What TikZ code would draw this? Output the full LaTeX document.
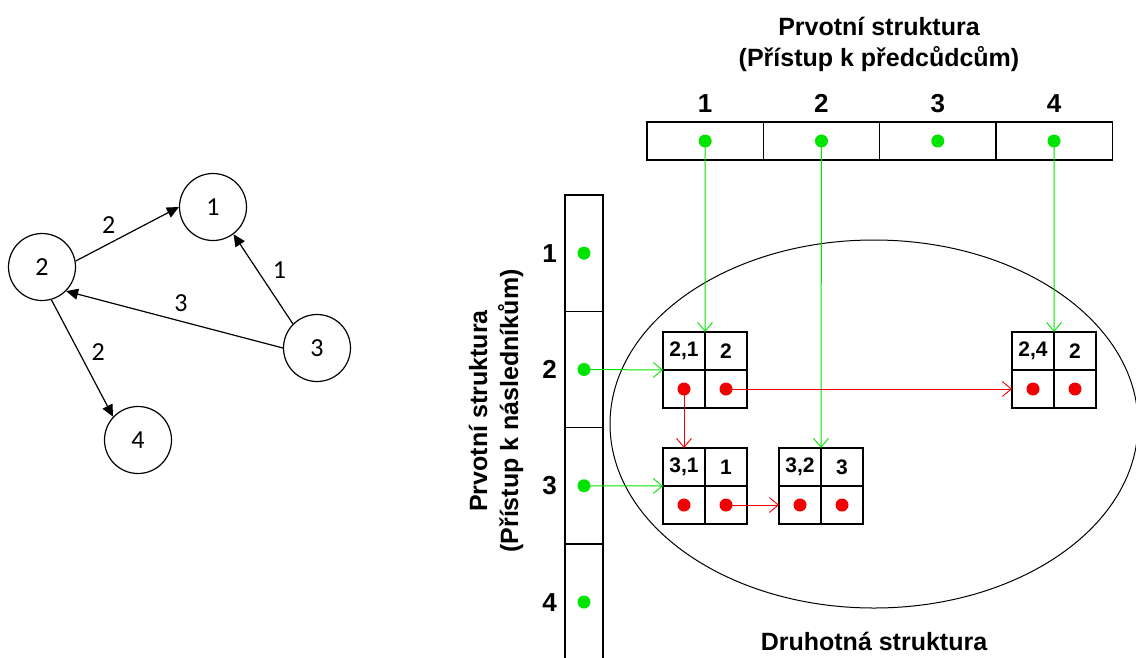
\documentclass[tikz,border=0pt]{standalone}
\usepackage{fontspec}
\setmainfont{Liberation Sans}
\newfontfamily\graphfont{Carlito}
\usepackage{tikz}
\usetikzlibrary{shapes.geometric, arrows.meta, positioning}
\definecolor{ptrgreen}{RGB}{0, 228, 0}
\definecolor{ptrred}{RGB}{240, 0, 0}

\begin{document}
\begin{tikzpicture}[
    x=1pt, y=-1pt,
    vertex/.style={draw, circle, minimum size=67pt, inner sep=0pt, line width=1.2pt, font=\graphfont\fontsize{26}{30}\selectfont},
    edge/.style={-{Triangle[length=12pt, width=11pt]}, line width=1.2pt},
    weight/.style={inner sep=0pt, font=\graphfont\fontsize{26}{30}\selectfont},
    headcell/.style={draw, line width=1.3pt, minimum width=116.3pt, minimum height=38pt, inner sep=0pt, outer sep=0pt},
    rowcell/.style={draw, line width=1.3pt, minimum width=38pt, minimum height=116.3pt, inner sep=0pt, outer sep=0pt},
    cell/.style={draw, line width=1.3pt, minimum width=42pt, minimum height=38pt, inner sep=0pt, outer sep=0pt, font=\bfseries\fontsize{21}{23}\selectfont},
    index/.style={inner sep=0pt, font=\bfseries\fontsize{26}{30}\selectfont},
    caption/.style={align=center, font=\bfseries\fontsize{25}{31}\selectfont},
    gptr/.style={ptrgreen, line width=1pt, -{Straight Barb[length=9pt, width=15pt, line width=0.9pt]}},
    rptr/.style={ptrred, line width=1pt, -{Straight Barb[length=9pt, width=15pt, line width=0.9pt]}}
]
    \useasboundingbox (0,0) rectangle (1136,657);

    % Graph
    \node[vertex] (v1) at (213,207) {1};
    \node[vertex] (v2) at (42,267) {2};
    \node[vertex] (v3) at (317,348) {3};
    \node[vertex] (v4) at (138,440) {4};

    \draw[edge] (v2.10) -- (v1.west) node[weight, pos=0.32, above=10pt] {2};
    \draw[edge] (v3.135) -- (v1.-53) node[weight, pos=0.6, right=15pt] {1};
    \draw[edge] (v3.west) -- (v2.-45) node[weight, pos=0.47, above=9pt] {3};
    \draw[edge] (v2.-74) -- (v4.137) node[weight, pos=0.45, right=12pt] {2};

    % Secondary structure
    \node[ellipse, draw, line width=1pt, minimum width=528pt, minimum height=368pt, inner sep=0pt] (sec) at (874,424) {};
    \node[caption, below=20pt of sec] (sectitle) {Druhotná struktura};

    % Predecessor array (top)
    \node[headcell] (a1) at (705.15,141) {};
    \node[headcell, right=0pt of a1] (a2) {};
    \node[headcell, right=0pt of a2] (a3) {};
    \node[headcell, right=0pt of a3] (a4) {};
    \node[index, above=9pt of a1] (ai1) {1};
    \node[index, above=9pt of a2] (ai2) {2};
    \node[index, above=9pt of a3] (ai3) {3};
    \node[index, above=9pt of a4] (ai4) {4};
    \node[caption] (toptitle) at (879,44) {Prvotní struktura\\(Přístup k předcůdcům)};

    % Successor array (left)
    \node[rowcell] (b1) at (584,253.15) {};
    \node[rowcell, below=0pt of b1] (b2) {};
    \node[rowcell, below=0pt of b2] (b3) {};
    \node[rowcell, below=0pt of b3] (b4) {};
    \node[index, left=8pt of b1] (bi1) {1};
    \node[index, left=8pt of b2] (bi2) {2};
    \node[index, left=8pt of b3] (bi3) {3};
    \node[index, left=8pt of b4] (bi4) {4};
    \node[caption, rotate=90] (lefttitle) at (496,411) {Prvotní struktura\\(Přístup k následníkům)};

    % Edge records
    \node[cell] (k21) at (684,351) {2,1};
    \node[cell, right=0pt of k21] (w21) {2};
    \node[cell, below=0pt of k21] (p21) {};
    \node[cell, right=0pt of p21] (q21) {};

    \node[cell] (k31) at (684,467) {3,1};
    \node[cell, right=0pt of k31] (w31) {1};
    \node[cell, below=0pt of k31] (p31) {};
    \node[cell, right=0pt of p31] (q31) {};

    \node[cell] (k32) at (800,467) {3,2};
    \node[cell, right=0pt of k32] (w32) {3};
    \node[cell, below=0pt of k32] (p32) {};
    \node[cell, right=0pt of p32] (q32) {};

    \node[cell] (k24) at (1033,351) {2,4};
    \node[cell, right=0pt of k24] (w24) {2};
    \node[cell, below=0pt of k24] (p24) {};
    \node[cell, right=0pt of p24] (q24) {};

    % Pointers
    \draw[gptr] (a1.center) -- (k21.north east);
    \draw[gptr] (a2.center) -- (k32.north east);
    \draw[gptr] (a4.center) -- (k24.north east);
    \draw[gptr] (b2.center) -- (k21.south west);
    \draw[gptr] (b3.center) -- (k31.south west);
    \draw[rptr] (p21.center) -- (k31.north);
    \draw[rptr] (q21.center) -- (p24.west);
    \draw[rptr] (q31.center) -- (p32.west);

    % Dots
    \fill[ptrgreen] (a1.center) circle[radius=6.5pt] (a2.center) circle[radius=6.5pt]
        (a3.center) circle[radius=6.5pt] (a4.center) circle[radius=6.5pt];
    \fill[ptrgreen] (b1.center) circle[radius=6.5pt] (b2.center) circle[radius=6.5pt]
        (b3.center) circle[radius=6.5pt] (b4.center) circle[radius=6.5pt];
    \fill[ptrred] (p21.center) circle[radius=6.5pt] (q21.center) circle[radius=6.5pt]
        (p31.center) circle[radius=6.5pt] (q31.center) circle[radius=6.5pt]
        (p32.center) circle[radius=6.5pt] (q32.center) circle[radius=6.5pt]
        (p24.center) circle[radius=6.5pt] (q24.center) circle[radius=6.5pt];
\end{tikzpicture}
\end{document}
